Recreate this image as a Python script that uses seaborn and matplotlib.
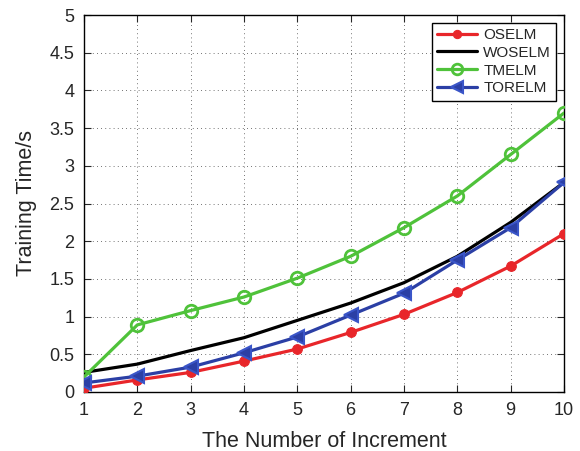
import matplotlib
matplotlib.use("Agg")
import matplotlib.pyplot as plt
import seaborn as sns
import pandas as pd

increments = [1, 2, 3, 4, 5, 6, 7, 8, 9, 10]
oselm = [0.05, 0.16, 0.26, 0.41, 0.57, 0.79, 1.03, 1.32, 1.67, 2.10]
woselm = [0.26, 0.37, 0.55, 0.72, 0.95, 1.18, 1.45, 1.80, 2.25, 2.78]
tmelm = [0.20, 0.89, 1.08, 1.26, 1.51, 1.80, 2.18, 2.60, 3.15, 3.70]
torelm = [0.12, 0.21, 0.33, 0.52, 0.73, 1.02, 1.31, 1.75, 2.18, 2.78]

series_names = ["OSELM", "WOSELM", "TMELM", "TORELM"]
y_ticks = [0, 0.5, 1, 1.5, 2, 2.5, 3, 3.5, 4, 4.5, 5]
y_tick_labels = ["0", "0.5", "1", "1.5", "2", "2.5", "3", "3.5", "4", "4.5", "5"]

sns.set_style("ticks")
plt.rcParams["font.family"] = ["Liberation Sans", "DejaVu Sans"]

df = pd.DataFrame({
    "Increment": increments * 4,
    "Time": oselm + woselm + tmelm + torelm,
    "Method": [n for n in series_names for _ in increments],
})

fig = plt.figure(figsize=(5.8, 4.51), dpi=100)
ax = fig.add_axes([84 / 580, 1 - 392 / 451, (564 - 84) / 580, (392 - 15) / 451])

styles = {
    "OSELM": dict(color="#e8262a", marker="o", markersize=7, markerfacecolor="#e8262a",
                  markeredgecolor="#e8262a"),
    "WOSELM": dict(color="black", marker=None),
    "TMELM": dict(color="#4fc23a", marker="o", markersize=9, markerfacecolor="none",
                  markeredgecolor="#4fc23a", markeredgewidth=2),
    "TORELM": dict(color="#2b3fa5", marker="<", markersize=10, markerfacecolor="#2b3fa5",
                   markeredgecolor="#3a55c8", markeredgewidth=1.5),
}

for name in series_names:
    sub = df[df["Method"] == name]
    st = styles[name]
    sns.lineplot(data=sub, x="Increment", y="Time", ax=ax, label=name,
                 linewidth=2.3, zorder=3, **st)

ax.set_xlim(1, 10)
ax.set_ylim(0, 5)
ax.set_xticks(increments)
ax.set_xticklabels([str(v) for v in increments])
ax.set_yticks(y_ticks)
ax.set_yticklabels(y_tick_labels)
ax.grid(True, linestyle=(0, (1, 4)), color="#444444", linewidth=0.6)
ax.tick_params(direction="in", top=True, right=True, labelsize=13, length=5, width=0.8, pad=7)
for sp in ax.spines.values():
    sp.set_linewidth(1.0)
    sp.set_color("black")
    sp.set_visible(True)

ax.set_xlabel("The Number of Increment", fontsize=15.5, labelpad=9)
ax.set_ylabel("Training Time/s", fontsize=15.5, labelpad=9)

leg = ax.legend(loc="upper right", fontsize=11, frameon=True, fancybox=False,
                edgecolor="black", framealpha=1, handlelength=2.6,
                borderaxespad=0.5, labelspacing=0.25, borderpad=0.35, handletextpad=0.4,
                markerscale=0.85)
leg.get_frame().set_linewidth(1.0)

fig.savefig("out.png", dpi=100)
